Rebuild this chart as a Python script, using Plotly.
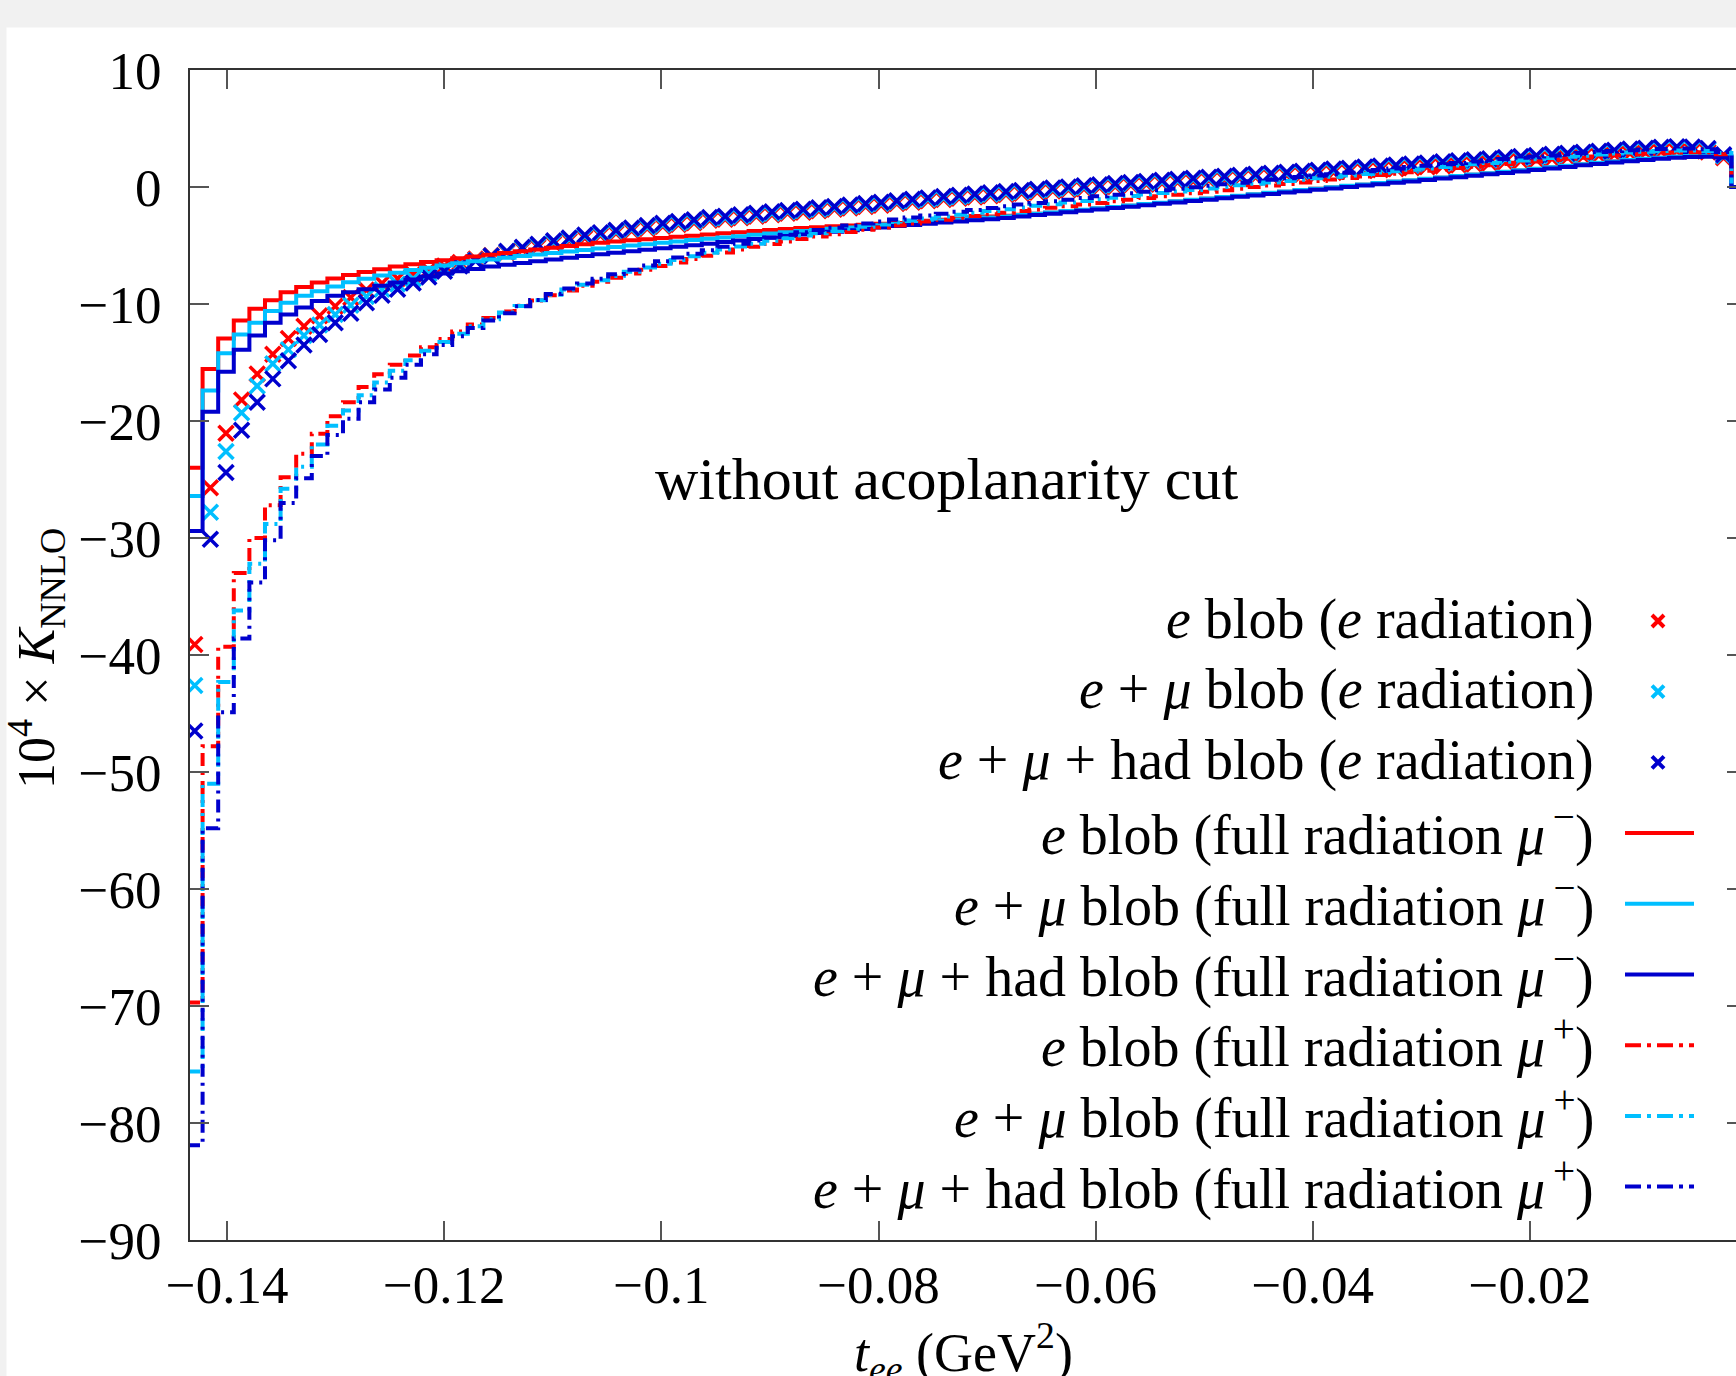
import plotly.graph_objects as go

# ---------------- data ----------------
N_BINS = 100
T_START = -0.1437      # GeV^2, left edge of first bin
BIN_W = 0.001437       # GeV^2

x_tick_vals = [-0.14, -0.12, -0.10, -0.08, -0.06, -0.04, -0.02]
x_tick_text = ["−0.14", "−0.12", "−0.1", "−0.08", "−0.06", "−0.04", "−0.02"]
y_tick_vals = [10, 0, -10, -20, -30, -40, -50, -60, -70, -80, -90]
y_tick_text = ["10", "0", "−10", "−20", "−30", "−40", "−50", "−60", "−70", "−80", "−90"]

# e radiation (crosses), bins 1..99
red_cross = [-39.1, -25.7, -21.05, -18.2, -15.98, -14.3, -12.95, -11.9, -11.0, -10.2,
             -9.45, -8.8, -8.23, -7.83, -7.45, -7.1, -6.75, -6.45, -6.15, -5.85,
             -5.6, -5.35, -5.12, -4.85, -4.6, -4.35, -4.15, -3.95, -3.75, -3.55,
             -3.35, -3.2, -3.05, -2.85, -2.75, -2.63, -2.5, -2.37, -2.25, -2.15,
             -2.03, -1.91, -1.79, -1.67, -1.55, -1.42, -1.3, -1.18, -1.07, -0.96,
             -0.85, -0.75, -0.64, -0.54, -0.44, -0.34, -0.24, -0.15, -0.05, 0.05,
             0.14, 0.23, 0.32, 0.41, 0.5, 0.58, 0.67, 0.75, 0.83, 0.92,
             1.0, 1.08, 1.16, 1.24, 1.32, 1.4, 1.48, 1.56, 1.64, 1.72,
             1.8, 1.88, 1.97, 2.06, 2.15, 2.24, 2.33, 2.42, 2.51, 2.6,
             2.69, 2.78, 2.87, 2.95, 3.03, 3.08, 3.08, 3.0, 2.5]
cyan_cross = [-42.6, -27.8, -22.6, -19.3, -17.0, -15.1, -13.9, -12.7, -11.8, -10.9,
              -10.1, -9.35, -8.75, -8.3, -7.85, -7.42, -7.0, -6.62, -6.25, -5.9,
              -5.55, -5.25, -5.0, -4.72, -4.47, -4.22, -4.02, -3.82, -3.62, -3.42,
              -3.22, -3.07, -2.92, -2.72, -2.62, -2.5, -2.37, -2.24, -2.12, -2.02,
              -1.9, -1.78, -1.66, -1.54, -1.42, -1.29, -1.17, -1.05, -0.94, -0.83,
              -0.72, -0.62, -0.51, -0.41, -0.31, -0.21, -0.11, -0.02, 0.08, 0.18,
              0.27, 0.36, 0.45, 0.54, 0.63, 0.71, 0.8, 0.88, 0.97, 1.06,
              1.15, 1.23, 1.32, 1.41, 1.49, 1.58, 1.67, 1.76, 1.85, 1.94,
              2.03, 2.12, 2.21, 2.3, 2.4, 2.49, 2.58, 2.67, 2.76, 2.85,
              2.94, 3.03, 3.12, 3.2, 3.28, 3.33, 3.3, 3.18, 2.65]
blue_cross = [-46.5, -30.1, -24.4, -20.8, -18.4, -16.4, -14.85, -13.5, -12.6, -11.6,
              -10.8, -9.9, -9.25, -8.74, -8.2, -7.7, -7.2, -6.75, -6.3, -5.9,
              -5.5, -5.15, -4.9, -4.6, -4.35, -4.1, -3.9, -3.7, -3.5, -3.3,
              -3.1, -2.95, -2.8, -2.6, -2.5, -2.38, -2.25, -2.12, -2.0, -1.9,
              -1.78, -1.66, -1.54, -1.42, -1.3, -1.17, -1.05, -0.93, -0.82, -0.71,
              -0.6, -0.5, -0.39, -0.29, -0.19, -0.09, 0.01, 0.1, 0.2, 0.3,
              0.39, 0.48, 0.57, 0.66, 0.75, 0.83, 0.92, 1.0, 1.09, 1.18,
              1.27, 1.35, 1.44, 1.53, 1.61, 1.7, 1.79, 1.88, 1.97, 2.06,
              2.15, 2.24, 2.33, 2.42, 2.52, 2.61, 2.7, 2.79, 2.88, 2.97,
              3.06, 3.15, 3.24, 3.32, 3.4, 3.45, 3.42, 3.3, 2.75]

# full radiation mu- (solid steps), bins 1..100
red_minus = [-24.0, -15.56, -12.95, -11.4, -10.4, -9.68, -9.0, -8.54, -8.17, -7.83,
             -7.52, -7.26, -7.03, -6.8, -6.6, -6.42, -6.25, -6.1, -5.95, -5.8,
             -5.65, -5.5, -5.35, -5.2, -5.05, -4.9, -4.77, -4.66, -4.56, -4.46,
             -4.36, -4.26, -4.16, -4.06, -3.96, -3.86, -3.77, -3.68, -3.59, -3.5,
             -3.43, -3.36, -3.29, -3.22, -3.15, -3.07, -2.98, -2.89, -2.8, -2.71,
             -2.62, -2.53, -2.45, -2.37, -2.29, -2.2, -2.08, -1.96, -1.84, -1.72,
             -1.6, -1.48, -1.36, -1.24, -1.12, -1.0, -0.88, -0.76, -0.64, -0.52,
             -0.4, -0.28, -0.16, -0.04, 0.08, 0.2, 0.32, 0.44, 0.56, 0.68,
             0.8, 0.92, 1.04, 1.16, 1.28, 1.41, 1.54, 1.67, 1.8, 1.93,
             2.05, 2.17, 2.28, 2.39, 2.49, 2.58, 2.64, 2.66, 2.6, 0.0]
cyan_minus = [-26.4, -17.4, -14.2, -12.6, -11.6, -10.6, -9.9, -9.3, -8.9, -8.5,
              -8.15, -7.85, -7.57, -7.32, -7.1, -6.9, -6.7, -6.52, -6.35, -6.2,
              -6.05, -5.9, -5.77, -5.64, -5.51, -5.38, -5.25, -5.13, -5.01, -4.89,
              -4.77, -4.65, -4.53, -4.42, -4.31, -4.2, -4.09, -3.98, -3.87, -3.77,
              -3.67, -3.57, -3.47, -3.37, -3.27, -3.17, -3.07, -2.97, -2.87, -2.78,
              -2.69, -2.6, -2.5, -2.4, -2.29, -2.18, -2.06, -1.94, -1.82, -1.7,
              -1.58, -1.46, -1.34, -1.22, -1.1, -0.98, -0.86, -0.74, -0.62, -0.5,
              -0.38, -0.26, -0.14, -0.02, 0.1, 0.22, 0.34, 0.46, 0.58, 0.7,
              0.82, 0.94, 1.06, 1.18, 1.3, 1.43, 1.56, 1.69, 1.82, 1.95,
              2.07, 2.19, 2.3, 2.41, 2.51, 2.6, 2.66, 2.68, 2.62, 0.0]
blue_minus = [-29.4, -19.2, -15.8, -13.9, -12.7, -11.6, -10.9, -10.3, -9.75, -9.3,
              -9.0, -8.74, -8.45, -8.17, -7.9, -7.65, -7.4, -7.2, -7.0, -6.8,
              -6.65, -6.5, -6.35, -6.2, -6.05, -5.9, -5.75, -5.62, -5.49, -5.36,
              -5.23, -5.1, -4.97, -4.84, -4.71, -4.58, -4.45, -4.32, -4.19, -4.06,
              -3.94, -3.82, -3.7, -3.58, -3.46, -3.34, -3.24, -3.14, -3.04, -2.94,
              -2.85, -2.76, -2.64, -2.52, -2.4, -2.28, -2.16, -2.04, -1.92, -1.8,
              -1.68, -1.56, -1.44, -1.32, -1.2, -1.08, -0.96, -0.84, -0.72, -0.6,
              -0.48, -0.36, -0.24, -0.12, 0.0, 0.12, 0.24, 0.36, 0.48, 0.6,
              0.72, 0.84, 0.96, 1.08, 1.2, 1.33, 1.46, 1.59, 1.72, 1.85,
              1.97, 2.09, 2.2, 2.31, 2.41, 2.5, 2.56, 2.58, 2.52, 0.0]

# full radiation mu+ (dash-dot steps), bins 1..100
red_plus = [-69.7, -47.8, -39.3, -33.0, -30.0, -27.2, -24.8, -22.8, -21.1, -19.6,
            -18.4, -17.1, -16.0, -15.2, -14.4, -13.7, -13.0, -12.35, -11.75, -11.2,
            -10.65, -10.15, -9.7, -9.25, -8.85, -8.45, -8.1, -7.75, -7.4, -7.07,
            -6.75, -6.45, -6.15, -5.87, -5.6, -5.34, -5.1, -4.87, -4.65, -4.44,
            -4.24, -4.04, -3.85, -3.66, -3.47, -3.29, -3.12, -2.95, -2.79, -2.63,
            -2.48, -2.33, -2.2, -2.06, -1.92, -1.78, -1.64, -1.5, -1.36, -1.22,
            -1.08, -0.94, -0.8, -0.67, -0.54, -0.4, -0.27, -0.14, -0.01, 0.12,
            0.25, 0.38, 0.51, 0.64, 0.77, 0.9, 1.02, 1.14, 1.26, 1.38,
            1.5, 1.62, 1.74, 1.86, 1.97, 2.08, 2.19, 2.3, 2.41, 2.51,
            2.61, 2.7, 2.78, 2.85, 2.91, 2.95, 2.97, 2.95, 2.8, 0.0]
cyan_plus = [-75.6, -51.0, -42.3, -36.2, -32.2, -28.8, -25.8, -23.9, -22.0, -20.4,
             -19.1, -17.8, -16.7, -15.7, -14.8, -14.0, -13.25, -12.55, -11.9, -11.3,
             -10.72, -10.18, -9.67, -9.2, -8.76, -8.35, -7.97, -7.6, -7.24, -6.89,
             -6.55, -6.23, -5.92, -5.63, -5.35, -5.09, -4.84, -4.6, -4.37, -4.15,
             -3.95, -3.76, -3.57, -3.39, -3.21, -3.03, -2.86, -2.69, -2.53, -2.37,
             -2.21, -2.05, -1.9, -1.75, -1.61, -1.47, -1.33, -1.19, -1.05, -0.91,
             -0.77, -0.64, -0.51, -0.38, -0.25, -0.12, 0.01, 0.14, 0.27, 0.39,
             0.51, 0.63, 0.75, 0.87, 0.99, 1.11, 1.23, 1.35, 1.47, 1.59,
             1.71, 1.83, 1.94, 2.05, 2.16, 2.27, 2.38, 2.48, 2.58, 2.68,
             2.77, 2.86, 2.94, 3.01, 3.07, 3.11, 3.12, 3.08, 2.9, 0.0]
blue_plus = [-81.9, -54.8, -44.9, -38.6, -33.8, -30.2, -27.0, -24.9, -23.0, -21.2,
             -19.8, -18.4, -17.3, -16.3, -15.2, -14.3, -13.5, -12.75, -12.05, -11.4,
             -10.8, -10.2, -9.65, -9.15, -8.68, -8.25, -7.85, -7.45, -7.07, -6.7,
             -6.35, -6.02, -5.7, -5.4, -5.11, -4.84, -4.58, -4.33, -4.09, -3.86,
             -3.67, -3.48, -3.3, -3.12, -2.94, -2.77, -2.6, -2.44, -2.28, -2.12,
             -1.96, -1.8, -1.65, -1.5, -1.36, -1.22, -1.08, -0.94, -0.8, -0.67,
             -0.54, -0.41, -0.28, -0.15, -0.02, 0.11, 0.24, 0.37, 0.5, 0.62,
             0.74, 0.86, 0.98, 1.1, 1.22, 1.34, 1.46, 1.58, 1.7, 1.82,
             1.94, 2.06, 2.17, 2.28, 2.39, 2.5, 2.6, 2.7, 2.8, 2.9,
             2.99, 3.07, 3.14, 3.2, 3.25, 3.28, 3.28, 3.22, 3.0, 0.0]

legend_labels = [
    "<i>e</i> blob (<i>e</i> radiation)",
    "<i>e</i> + <i>μ</i> blob (<i>e</i> radiation)",
    "<i>e</i> + <i>μ</i> + had blob (<i>e</i> radiation)",
    "<i>e</i> blob (full radiation <i>μ</i><sup>\u2009−</sup>)",
    "<i>e</i> + <i>μ</i> blob (full radiation <i>μ</i><sup>\u2009−</sup>)",
    "<i>e</i> + <i>μ</i> + had blob (full radiation <i>μ</i><sup>\u2009−</sup>)",
    "<i>e</i> blob (full radiation <i>μ</i><sup>\u2009+</sup>)",
    "<i>e</i> + <i>μ</i> blob (full radiation <i>μ</i><sup>\u2009+</sup>)",
    "<i>e</i> + <i>μ</i> + had blob (full radiation <i>μ</i><sup>\u2009+</sup>)",
]

# ---------------- styling / layout ----------------
RED, CYAN, BLUE = "#ff0000", "#00bfff", "#0000cd"
FONT = "Liberation Serif"
W, H = 1736, 1376
PL, PR, PT, PB = 190, 1736, 70, 1240      # plot area in pixels
PX_PER_UNIT = 10856.0
X0_PX = 1747                               # pixel of t = 0
x_range = [(PL - X0_PX) / PX_PER_UNIT, (PR - X0_PX) / PX_PER_UNIT]
DASHDOT = "13px,6px,3px,6px"


def px_x(p):
    return (p - PL) / (PR - PL)


def px_y(p):
    return (PB - p) / (PB - PT)


edges = [T_START + i * BIN_W for i in range(N_BINS + 1)]
centers = [T_START + (i + 0.5) * BIN_W for i in range(N_BINS)]

fig = go.Figure()

for vals, col in [(red_cross, RED), (cyan_cross, CYAN), (blue_cross, BLUE)]:
    fig.add_trace(go.Scatter(
        x=centers[:len(vals)], y=vals, mode="markers",
        marker=dict(symbol="x-thin", size=15, color=col,
                    line=dict(color=col, width=3.5)),
        showlegend=False))

for vals, col in [(red_minus, RED), (cyan_minus, CYAN), (blue_minus, BLUE)]:
    fig.add_trace(go.Scatter(
        x=edges, y=vals + [vals[-1]], mode="lines", line_shape="hv",
        line=dict(color=col, width=4), showlegend=False))

for vals, col in [(red_plus, RED), (cyan_plus, CYAN), (blue_plus, BLUE)]:
    fig.add_trace(go.Scatter(
        x=edges, y=vals + [vals[-1]], mode="lines", line_shape="hv",
        line=dict(color=col, width=4, dash=DASHDOT), showlegend=False))

# dummy trace to activate right-side tick axis
fig.add_trace(go.Scatter(x=[None], y=[None], yaxis="y2", showlegend=False,
                         hoverinfo="skip"))

# manual legend (text right-aligned, sample to the right), on a pixel-space overlay
LEG_Y0, LEG_DY = 619, 70.7
LEG_TEXT_X = 1596
styles = [("x", RED), ("x", CYAN), ("x", BLUE),
          ("solid", RED), ("solid", CYAN), ("solid", BLUE),
          ("dd", RED), ("dd", CYAN), ("dd", BLUE)]
annotations = []
for i, (lab, (kind, col)) in enumerate(zip(legend_labels, styles)):
    yy = LEG_Y0 + i * LEG_DY
    annotations.append(dict(x=LEG_TEXT_X, y=yy, xref="x3", yref="y3", text=lab,
                            showarrow=False, xanchor="right", yanchor="middle",
                            font=dict(family=FONT, size=56, color="black")))
    if kind == "x":
        fig.add_trace(go.Scatter(x=[1658], y=[yy + 2], xaxis="x3", yaxis="y3",
                                 mode="markers",
                                 marker=dict(symbol="x-thin", size=12, color=col,
                                             line=dict(color=col, width=4)),
                                 showlegend=False, hoverinfo="skip"))
    else:
        fig.add_trace(go.Scatter(x=[1625, 1694], y=[yy + 2, yy + 2], xaxis="x3", yaxis="y3",
                                 mode="lines",
                                 line=dict(color=col, width=4,
                                           dash="solid" if kind == "solid" else "16px,6px,4px,6px"),
                                 showlegend=False, hoverinfo="skip"))

annotations.append(dict(x=946, y=479, xref="x3", yref="y3",
                        text="without acoplanarity cut", showarrow=False,
                        xanchor="center", yanchor="middle",
                        font=dict(family=FONT, size=60, color="black")))
annotations.append(dict(x=px_x(36), y=px_y(659), xref="paper", yref="paper",
                        text="10<sup>4</sup> × <i>K</i><sub>NNLO</sub>",
                        textangle=-90, showarrow=False, xanchor="center", yanchor="middle",
                        font=dict(family=FONT, size=52, color="black")))
annotations.append(dict(x=px_x(963), y=px_y(1312), xref="paper", yref="paper",
                        text="<i>t<sub>ee</sub></i> (GeV<sup>2</sup>)", showarrow=False,
                        xanchor="center", yanchor="top",
                        font=dict(family=FONT, size=54, color="black")))
annotations.append(dict(x=px_x(X0_PX), y=px_y(1288), xref="paper", yref="paper",
                        text="0", showarrow=False, xanchor="center", yanchor="middle",
                        font=dict(family=FONT, size=53, color="black")))

shapes = [
    dict(type="rect", xref="paper", yref="paper", layer="above",
         x0=px_x(-2), x1=px_x(W + 2), y0=px_y(27.5), y1=px_y(-2),
         fillcolor="#f1f1f1", line=dict(width=0)),
    dict(type="rect", xref="paper", yref="paper", layer="above",
         x0=px_x(-2), x1=px_x(6.5), y0=px_y(H + 2), y1=px_y(-2),
         fillcolor="#f1f1f1", line=dict(width=0)),
]

fig.update_layout(
    width=W, height=H,
    margin=dict(l=PL, r=W - PR, t=PT, b=H - PB, pad=0),
    paper_bgcolor="white", plot_bgcolor="white",
    showlegend=False,
    font=dict(family=FONT, color="black"),
    xaxis=dict(range=x_range, tickvals=x_tick_vals, ticktext=x_tick_text,
               ticks="inside", ticklen=19, tickwidth=1.5, tickcolor="#555",
               showline=True, linecolor="#333", linewidth=2, mirror="ticks",
               showgrid=False, zeroline=False,
               tickfont=dict(family=FONT, size=53, color="black"),
               ticklabelstandoff=-3),
    yaxis=dict(range=[-90, 10], tickvals=y_tick_vals, ticktext=y_tick_text,
               ticks="inside", ticklen=19, tickwidth=1.5, tickcolor="#555",
               showline=True, linecolor="#333", linewidth=2, mirror=False,
               showgrid=False, zeroline=False,
               tickfont=dict(family=FONT, size=53, color="black"),
               ticklabelstandoff=16),
    yaxis2=dict(range=[-90, 10], overlaying="y", side="right", anchor="x",
                tickvals=y_tick_vals, ticks="inside", ticklen=9, tickwidth=1.5,
                tickcolor="#555", showticklabels=False, showline=False,
                showgrid=False, zeroline=False),
    xaxis3=dict(range=[PL, PR], overlaying="x", visible=False, anchor="y3"),
    yaxis3=dict(range=[PB, PT], overlaying="y", visible=False, anchor="x3"),
    annotations=annotations,
    shapes=shapes,
)

fig.write_html("out.html")
